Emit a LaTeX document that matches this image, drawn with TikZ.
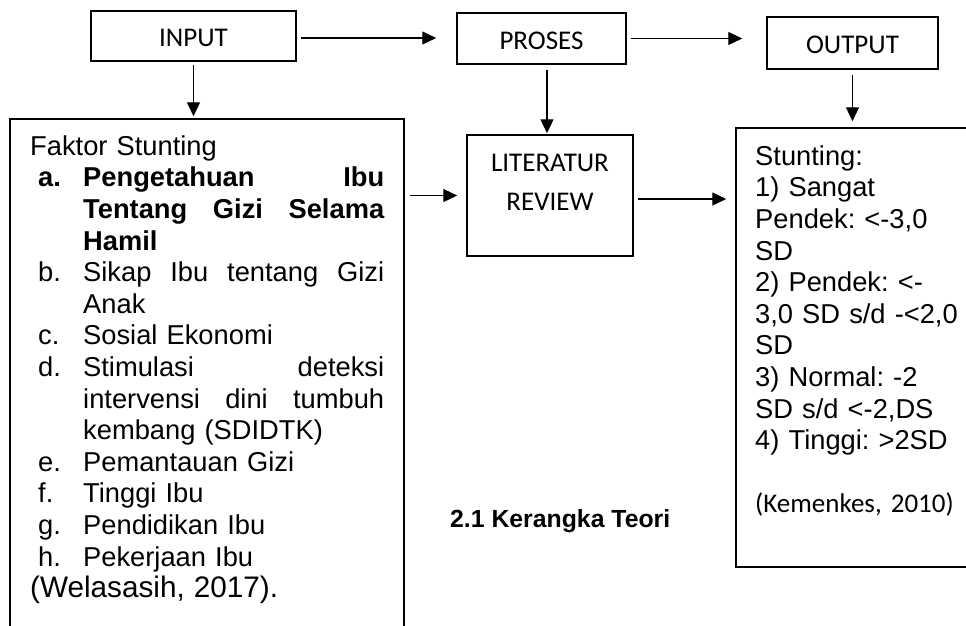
\documentclass[tikz,border=0pt]{standalone}
\usepackage{fontspec}
\usepackage{tikz}
\usetikzlibrary{arrows.meta}

\newfontfamily\arialfont{Liberation Sans}
\newfontfamily\calibrifont{Carlito}
\newcommand\bodyfont{\arialfont\fontsize{27.3}{31.6}\selectfont\frenchspacing}
\newcommand\boxfont{\calibrifont\fontsize{27}{32}\selectfont}
\newcommand\itemlbl[1]{\hspace*{8pt}\makebox[45pt][l]{#1}}
\newcommand\itemcont{\hspace*{53pt}}
\newcommand\fullline[1]{\makebox[301pt][l]{#1}}

\begin{document}
\begin{tikzpicture}[x=1pt,y=-1pt,
        box/.style={draw,line width=1.5pt,inner sep=0pt,font=\boxfont,text height=21.5pt,text depth=0pt},
        link/.style={line width=1.2pt,-{Triangle[length=14pt,width=13pt]}}]

    \useasboundingbox (0,0) rectangle (966,625);
    \clip (0,0) rectangle (966,625);

    % top row
    \node[box,minimum width=205,minimum height=50] (input) at (193.5,36) {INPUT};
    \node[box,minimum width=169,minimum height=51] (proses) at (541.5,38.5) {PROSES};
    \node[box,minimum width=171,minimum height=52] (output) at (852.5,43) {OUTPUT};

    % lower boxes
    \node[box,minimum width=394,minimum height=531] (faktor) at (207,384.5) {};
    \node[box,minimum width=166,minimum height=121] (lit) at (550,195.5) {};
    \node[box,minimum width=254,minimum height=439] (stunting) at (863,347.5) {};

    \node[anchor=north,inner sep=0pt,align=center,font=\calibrifont\fontsize{27}{39}\selectfont]
        (littext) at ([yshift=-19.6pt]lit.north) {LITERATUR\\REVIEW};

    \node[anchor=north west,inner sep=0pt,text width=380pt,align=left,font=\bodyfont]
        (faktortext) at (30,135.4) {Faktor Stunting\\
        \itemlbl{\bfseries a.}\fullline{\bfseries Pengetahuan\hfill Ibu}\\
        \itemcont\fullline{\bfseries Tentang\hfill Gizi\hfill Selama}\\
        \itemcont\textbf{Hamil}\\
        \itemlbl{b.}\fullline{Sikap\hfill Ibu\hfill tentang\hfill Gizi}\\
        \itemcont Anak\\
        \itemlbl{c.}Sosial Ekonomi\\
        \itemlbl{d.}\fullline{Stimulasi\hfill deteksi}\\
        \itemcont\fullline{intervensi\hfill dini\hfill tumbuh}\\
        \itemcont kembang (SDIDTK)\\
        \itemlbl{e.}Pemantauan Gizi\\
        \itemlbl{f.}Tinggi Ibu\\
        \itemlbl{g.}Pendidikan Ibu\\
        \itemlbl{h.}Pekerjaan Ibu\\
        {\fontsize{29.7}{31.6}\selectfont (Welasasih, 2017).}};

    \node[anchor=north west,inner sep=0pt,text width=205pt,align=left,font=\bodyfont]
        (stuntingtext) at (755,145.4) {Stunting:\\
        1) Sangat\\
        Pendek: <-3,0\\
        SD\\
        2) Pendek: <-\\
        3,0 SD s/d -<2,0\\
        SD\\
        3) Normal: -2\\
        SD s/d <-2,DS\\
        4) Tinggi: >2SD\\[31.6pt]
        {\boxfont (Kemenkes, 2010)}};

    \node[anchor=base west,inner sep=0pt,font=\arialfont\bfseries\fontsize{24.8}{30}\selectfont]
        (caption) at (450,527) {2.1 Kerangka Teori};

    % arrows
    \draw[link,shorten <=4pt,shorten >=20pt] ([yshift=-2pt]input.east) -- ([yshift=-2pt]input.east -| proses.west);
    \draw[link,shorten <=4pt,shorten >=24pt] (proses.east) -- (proses.east -| output.west);
    \draw[link,shorten <=3pt,shorten >=2pt] (input.south) -- (input.south |- faktor.north);
    \draw[link,shorten <=5pt,shorten >=1pt] ([xshift=5.5pt]proses.south) -- ([xshift=5.5pt]proses.south |- lit.north);
    \draw[link,shorten <=5pt,shorten >=6pt] (output.south) -- (output.south |- stunting.north);
    \draw[link,shorten <=5pt,shorten >=9pt] (faktor.east |- lit.west) -- (lit.west);
    \draw[link,shorten <=4pt,shorten >=9pt] ([yshift=-3.5pt]lit.east) -- ([yshift=-3.5pt]lit.east -| stunting.west);

\end{tikzpicture}
\end{document}
